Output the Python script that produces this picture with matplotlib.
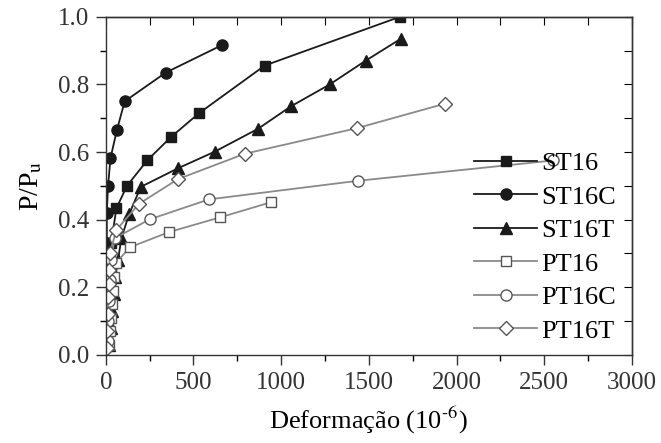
import matplotlib
matplotlib.use("Agg")
import matplotlib.pyplot as plt
from matplotlib.ticker import MultipleLocator

plt.rcParams['font.family'] = ['Liberation Serif', 'DejaVu Serif']
plt.rcParams['mathtext.fontset'] = 'stix'

# strain (10^-6) vs normalised load P/Pu
st16_x = [5, 10, 15, 20, 30, 61, 121, 236, 371, 532, 907, 1677]
st16_y = [0.04, 0.10, 0.17, 0.24, 0.33, 0.434, 0.50, 0.575, 0.644, 0.715, 0.856, 1.0]

st16c_x = [0, 2, 4, 6, 6, 13, 27, 64, 108, 342, 665]
st16c_y = [0.08, 0.17, 0.25, 0.33, 0.42, 0.50, 0.582, 0.666, 0.75, 0.835, 0.917]

st16t_x = [20, 28, 36, 45, 55, 70, 89, 133, 200, 412, 621, 869, 1055, 1277, 1481, 1682]
st16t_y = [0.03, 0.08, 0.13, 0.18, 0.23, 0.28, 0.345, 0.416, 0.497, 0.552, 0.601,
           0.669, 0.735, 0.80, 0.87, 0.935]

pt16_x = [20, 25, 30, 35, 40, 45, 57, 137, 359, 654, 945]
pt16_y = [0.03, 0.07, 0.11, 0.15, 0.19, 0.23, 0.271, 0.318, 0.363, 0.407, 0.452]

pt16c_x = [10, 15, 20, 25, 30, 51, 251, 589, 1439, 2550]
pt16c_y = [0.04, 0.10, 0.16, 0.22, 0.28, 0.345, 0.401, 0.46, 0.515, 0.575]

pt16t_x = [5, 8, 11, 14, 17, 20, 23, 61, 190, 412, 793, 1435, 1933]
pt16t_y = [0.02, 0.07, 0.12, 0.17, 0.21, 0.25, 0.30, 0.37, 0.447, 0.52, 0.595,
           0.671, 0.743]

black = '#1a1a1a'
grey = '#8a8a8a'
ms = 7

fig = plt.figure(figsize=(6.61, 4.43), dpi=100)
ax = fig.add_axes([0.160, 0.199, 0.796, 0.763])

ax.plot(st16_x, st16_y, color=black, lw=1.3, marker='s', ms=ms, mfc=black, mec=black, label='ST16')
ax.plot(st16c_x, st16c_y, color=black, lw=1.3, marker='o', ms=ms + 1, mfc=black, mec=black, label='ST16C')
ax.plot(st16t_x, st16t_y, color=black, lw=1.3, marker='^', ms=ms + 1, mfc=black, mec=black, label='ST16T')
ax.plot(pt16_x, pt16_y, color=grey, lw=1.3, marker='s', ms=ms, mfc='white', mec='#555555', label='PT16')
ax.plot(pt16c_x, pt16c_y, color=grey, lw=1.3, marker='o', ms=ms + 1, mfc='white', mec='#555555', label='PT16C')
ax.plot(pt16t_x, pt16t_y, color=grey, lw=1.3, marker='D', ms=ms, mfc='white', mec='#555555', label='PT16T')

ax.set_xlim(0, 3000)
ax.set_ylim(0, 1.0)
ax.xaxis.set_major_locator(MultipleLocator(500))
ax.xaxis.set_minor_locator(MultipleLocator(250))
ax.yaxis.set_major_locator(MultipleLocator(0.2))
ax.yaxis.set_minor_locator(MultipleLocator(0.1))
ax.yaxis.set_major_formatter(matplotlib.ticker.FormatStrFormatter('%.1f'))
ax.tick_params(which='major', direction='out', length=7, width=1, labelsize=18,
               colors='#333333', pad=5)
ax.tick_params(which='minor', direction='out', length=4, width=1)

# inward ticks on the top and right spines
top = ax.secondary_xaxis('top')
top.xaxis.set_major_locator(MultipleLocator(250))
top.tick_params(direction='in', length=6, labeltop=False)
right = ax.secondary_yaxis('right')
right.yaxis.set_major_locator(MultipleLocator(0.1))
right.tick_params(direction='in', length=6, labelright=False)

for a in (ax, top, right):
    for s in a.spines.values():
        s.set_color('#333333')
        s.set_linewidth(1)

ax.set_xlabel('Deformação (10$^{\\text{-6}}$)', fontsize=19, labelpad=8)
ax.set_ylabel('P/P$_\\mathrm{u}$', fontsize=20, labelpad=10)

ax.legend(loc='upper right', bbox_to_anchor=(0.995, 0.64), frameon=False, fontsize=19,
          handlelength=2.4, labelspacing=0.38, handletextpad=0.15, borderaxespad=0.1)

fig.savefig('out.png', dpi=100)
